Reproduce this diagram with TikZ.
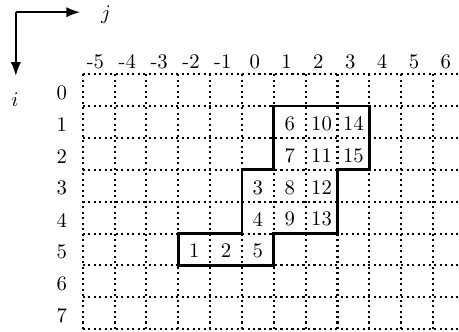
\documentclass[tikz,border=0pt]{standalone}
\usepackage{amsmath,amssymb}
\usepackage{tikz}
\usetikzlibrary{arrows.meta,calc}
\tikzset{
    gridline/.style={line width=1pt,dash pattern=on 1pt off 1.65pt},
    border/.style={line width=1.3pt},
    axis/.style={draw,-{Latex},line width=0.8pt},
    lbl/.style={inner sep=0pt},
    cellnum/.style={inner sep=0pt},
}

\begin{document}
\begin{tikzpicture}[x=0.54cm,y=0.54cm]
    \useasboundingbox (-2.597,2.333) rectangle (11.815,-8.09);
    % axes
    \coordinate (corner) at (-2.1,1.95);
    \coordinate (jend) at (-0.085,1.95);
    \coordinate (iend) at (-2.1,-0.05);
    \draw[axis] (corner) -- (jend);
    \draw[axis] (corner) -- (iend);
    \node[lbl] (jlab) at (0.73,1.86) {$j$};
    \node[lbl] (ilab) at (-2.13,-0.81) {$i$};

    % grid
    \foreach \x in {0,...,12}
        \draw[gridline] (\x,0) -- (\x,-8);
    \foreach \y in {0,...,8}
        \draw[gridline] (0,-\y) -- (12,-\y);
    \foreach \j in {-5,...,6}
        \node[lbl] (col\j) at (\j+5.4,0.4) {\j};
    \foreach \i in {0,...,7}
        \node[lbl] (row\i) at (-0.66,-\i-0.58) {\i};

    % numbered cells
    \foreach \i/\j/\n in {5/-2/1,5/-1/2,3/0/3,4/0/4,5/0/5,1/1/6,2/1/7,3/1/8,4/1/9,
                          1/2/10,2/2/11,3/2/12,4/2/13,1/3/14,2/3/15}
        \node[cellnum] (n\n) at (\j+5.5,-\i-0.55) {\n};

    \draw[border] (6,-1) -| (9,-3) -| (8,-5) -| (6,-6) -| (3,-5) -| (5,-3) -| (6,-1) -- cycle;
\end{tikzpicture}
\end{document}
